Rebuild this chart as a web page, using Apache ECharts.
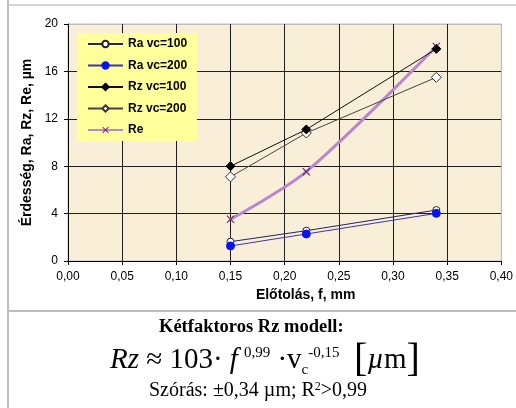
<!DOCTYPE html>
<html>
<head>
<meta charset="utf-8">
<script src="https://cdn.jsdelivr.net/npm/echarts@6/dist/echarts.min.js"></script>
<style>
html,body{margin:0;padding:0;background:#fff;}
#chart{width:516px;height:408px;}
</style>
</head>
<body>
<div id="chart"></div>
<script>
// ---- data ----
const feeds = [0.15, 0.22, 0.34];
const raVc100 = [1.63, 2.56, 4.30];
const raVc200 = [1.27, 2.28, 4.02];
const rzVc100 = [8.0, 11.1, 17.9];
const rzVc200 = [7.1, 10.8, 15.5];
const reVals  = [3.52, 7.54, 18.1];
const seriesNames = ['Ra vc=100', 'Ra vc=200', 'Rz vc=100', 'Rz vc=200', 'Re'];
const yTicks = [0, 4, 8, 12, 16, 20];
const xTicks = [0, 0.05, 0.10, 0.15, 0.20, 0.25, 0.30, 0.35, 0.40];

const pairs = vals => feeds.map((f, i) => [f, vals[i]]);
const chart = echarts.init(document.getElementById('chart'), null, {renderer: 'canvas'});
const sans = 'Liberation Sans, Arial, sans-serif';
const serif = 'Liberation Serif, Times New Roman, serif';
const xSplit = xTicks.map((v, i) => i === xTicks.length - 1 ? '#bdbdbd' : '#1e1e1e');
const ySplit = yTicks.map((v, i) => i === yTicks.length - 1 ? '#bdbdbd' : '#1e1e1e');
const crossPath = 'path://M0,1L1,0L5,4L9,0L10,1L6,5L10,9L9,10L5,6L1,10L0,9L4,5Z';

chart.setOption({
  animation: false,
  backgroundColor: '#ffffff',
  grid: {left: 68, right: 11, top: 24, bottom: 147, show: true,
         backgroundColor: '#F9EED7', borderColor: '#bdbdbd', borderWidth: 1},
  legend: {
    data: seriesNames, orient: 'vertical', left: 77, top: 33,
    backgroundColor: '#FFFF9C', padding: [5, 10, 5, 10],
    itemWidth: 35, itemHeight: 8, itemGap: 9.5,
    textStyle: {fontFamily: sans, fontSize: 12, fontWeight: 'bold', color: '#000'}
  },
  xAxis: {
    type: 'value', min: 0, max: 0.4, interval: 0.05,
    name: 'Előtolás, f, mm', nameLocation: 'middle', nameGap: 21,
    nameTextStyle: {fontFamily: sans, fontSize: 14, fontWeight: 'bold', color: '#000', padding: [0,0,0,42]},
    axisLine: {show: true, lineStyle: {color: '#000', width: 1}},
    axisTick: {show: true, length: 4, lineStyle: {color: '#000'}},
    axisLabel: {margin: 10, fontFamily: sans, fontSize: 12, color: '#000',
                formatter: v => v.toFixed(2).replace('.', ',')},
    splitLine: {show: true, lineStyle: {color: xSplit, width: 1}}
  },
  yAxis: {
    type: 'value', min: 0, max: 20, interval: 4,
    name: 'Érdesség, Ra, Rz, Re, µm', nameLocation: 'middle', nameGap: 27,
    nameTextStyle: {fontFamily: sans, fontSize: 14, fontWeight: 'bold', color: '#000'},
    axisLine: {show: true, lineStyle: {color: '#000', width: 1}},
    axisTick: {show: true, length: 4, lineStyle: {color: '#000'}},
    axisLabel: {margin: 10, fontFamily: sans, fontSize: 12, color: '#000'},
    splitLine: {show: true, lineStyle: {color: ySplit, width: 1}}
  },
  series: [
    {name: seriesNames[0], type: 'line', data: pairs(raVc100), symbol: 'circle', symbolSize: 7,
     lineStyle: {color: '#23235e', width: 1}, itemStyle: {color: '#ffffff', borderColor: '#222', borderWidth: 1}, z: 3},
    {name: seriesNames[1], type: 'line', data: pairs(raVc200), symbol: 'circle', symbolSize: 8,
     lineStyle: {color: '#3a34b8', width: 1}, itemStyle: {color: '#0a14f0', borderColor: '#0a14f0', borderWidth: 1}, z: 4},
    {name: seriesNames[2], type: 'line', data: pairs(rzVc100), symbol: 'diamond', symbolSize: 9,
     lineStyle: {color: '#111', width: 1}, itemStyle: {color: '#000', borderColor: '#000', borderWidth: 1}, z: 4},
    {name: seriesNames[3], type: 'line', data: pairs(rzVc200), symbol: 'diamond', symbolSize: 10,
     lineStyle: {color: '#444', width: 1}, itemStyle: {color: '#ffffff', borderColor: '#333', borderWidth: 1}, z: 3},
    {name: seriesNames[4], type: 'line', data: pairs(reVals), symbol: crossPath, symbolSize: 8, smooth: 0.3,
     lineStyle: {color: '#B788CB', width: 3}, itemStyle: {color: '#7a1f7a', borderWidth: 0}, z: 2}
  ],
  graphic: [
    {type: 'line', shape: {x1: 8, y1: 0, x2: 8, y2: 408}, style: {stroke: '#bdbdbd', lineWidth: 2}, silent: true},
    {type: 'line', shape: {x1: 7, y1: 5, x2: 516, y2: 5}, style: {stroke: '#c4c4c4', lineWidth: 1.5}, silent: true},
    {type: 'line', shape: {x1: 7, y1: 311, x2: 516, y2: 311}, style: {stroke: '#bdbdbd', lineWidth: 2}, silent: true},
    {type: 'text', left: 159, top: 318, style: {text: 'Kétfaktoros Rz modell:', font: 'bold 18.5px ' + serif, fill: '#000'}},
    {type: 'text', left: 110, top: 340, style: {
      text: '{it|Rz}{n| ≈ 103· }{it|f}{sup|\u2009\u20090,99}{n| ·v}{sub|c}{sup|-0,15}{n|  }{br|[}{it|µ}{n|m}{br|]}',
      fill: '#000',
      rich: {
        n:   {fontFamily: serif, fontSize: 29, color: '#000', verticalAlign: 'middle'},
        it:  {fontFamily: serif, fontSize: 29, fontStyle: 'italic', color: '#000', verticalAlign: 'middle'},
        sup: {fontFamily: serif, fontSize: 15, color: '#000', verticalAlign: 'top', padding: [6, 0, 0, 0]},
        sub: {fontFamily: serif, fontSize: 15, color: '#000', verticalAlign: 'bottom', padding: [0, 0, 2, 0]},
        br:  {fontFamily: serif, fontSize: 40, color: '#000', verticalAlign: 'middle'}
      }
    }},
    {type: 'text', left: 149, top: 381, style: {
      text: '{n|Szórás: ±0,34 µm; R}{sup|2}{n|>0,99}',
      rich: {
        n:   {fontFamily: serif, fontSize: 20, color: '#000', verticalAlign: 'middle'},
        sup: {fontFamily: serif, fontSize: 12, color: '#000', verticalAlign: 'top'}
      }
    }}
  ]
});
</script>
</body>
</html>
